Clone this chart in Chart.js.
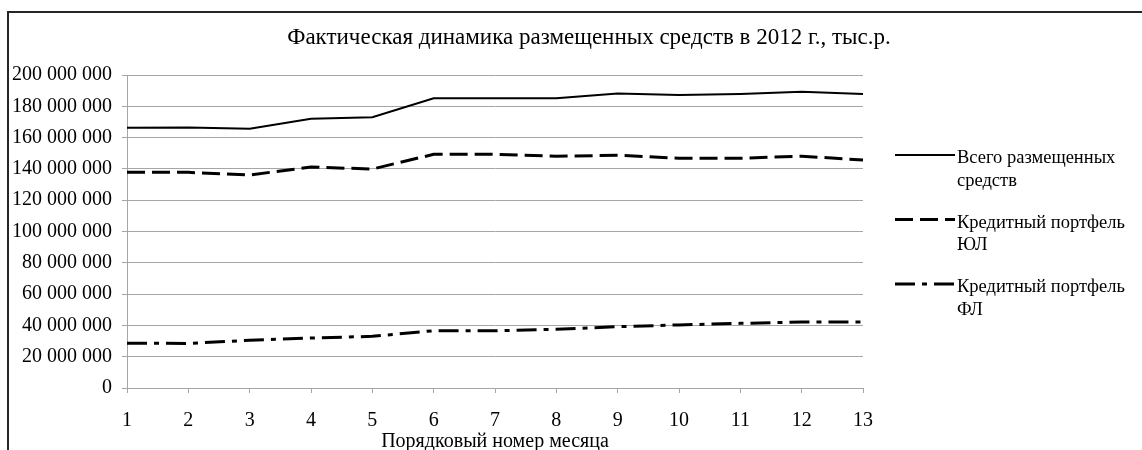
<!DOCTYPE html>
<html>
<head>
<meta charset="utf-8">
<script src="https://cdn.jsdelivr.net/npm/chart.js@4.4.1/dist/chart.umd.min.js"></script>
<style>
  html, body { margin: 0; padding: 0; background: #ffffff; }
  #wrap { width: 1142px; height: 450px; position: relative; }
</style>
</head>
<body>
<div id="wrap"><canvas id="chart" width="1142" height="450"></canvas></div>
<script>
// Months of 2012 (serial numbers)
const months = ['1', '2', '3', '4', '5', '6', '7', '8', '9', '10', '11', '12', '13'];

// Placed funds, thousand roubles
const totalPlaced    = [166300000, 166500000, 165700000, 172100000, 173000000, 185100000, 185100000, 185200000, 188100000, 187200000, 187900000, 189300000, 187900000];
const corporateLoans = [137800000, 137800000, 136100000, 141200000, 139900000, 149300000, 149300000, 148100000, 148700000, 146800000, 146800000, 148100000, 145700000];
const retailLoans    = [28600000, 28500000, 30500000, 31900000, 33000000, 36600000, 36600000, 37500000, 39200000, 40300000, 41300000, 42200000, 42200000];

// Series names
const seriesNames = ['Всего размещенных средств', 'Кредитный портфель ЮЛ', 'Кредитный портфель ФЛ'];

// Value axis range
const yMin = 0;
const yMax = 200000000;
const yStep = 20000000;

const chartTitle = 'Фактическая динамика размещенных средств в 2012 г., тыс.р.';
const xAxisTitle = 'Порядковый номер месяца';

const serif = "'Liberation Serif', 'Times New Roman', serif";
const gridGray = '#a6a6a6';

function formatThousands(v) {
  return String(Math.round(v)).replace(/\B(?=(\d{3})+(?!\d))/g, ' ');
}

// Outer frame (top and left edges) and the heading
const framePlugin = {
  id: 'frame',
  beforeDraw(chart) {
    const ctx = chart.ctx;
    ctx.save();
    ctx.strokeStyle = '#262626';
    ctx.lineWidth = 2;
    ctx.beginPath();
    ctx.moveTo(chart.width, 12);
    ctx.lineTo(8, 12);
    ctx.lineTo(8, chart.height);
    ctx.stroke();

    ctx.fillStyle = '#000';
    ctx.font = '23px ' + serif;
    ctx.textAlign = 'center';
    ctx.textBaseline = 'alphabetic';
    ctx.fillText(chartTitle, 589, 44);
    ctx.restore();
  }
};

// Legend on the right with wrapped labels
const sideLegendPlugin = {
  id: 'sideLegend',
  afterDraw(chart) {
    const ctx = chart.ctx;
    const lineX0 = 895, lineX1 = 955, textX = 957;
    const maxWidth = chart.width - textX - 8;
    const lineGap = 22.5;
    let baseline = 163;
    ctx.save();
    ctx.font = '18.5px ' + serif;
    ctx.fillStyle = '#000';
    ctx.textBaseline = 'alphabetic';
    ctx.textAlign = 'left';
    chart.data.datasets.forEach(ds => {
      // sample line
      ctx.save();
      ctx.strokeStyle = ds.borderColor;
      ctx.lineWidth = ds.borderWidth;
      ctx.setLineDash(ds.borderDash || []);
      ctx.beginPath();
      ctx.moveTo(lineX0, baseline - 8);
      ctx.lineTo(lineX1, baseline - 8);
      ctx.stroke();
      ctx.restore();
      // wrapped text
      const words = ds.label.split(' ');
      const lines = [];
      let cur = '';
      words.forEach(w => {
        const test = cur ? cur + ' ' + w : w;
        if (cur && ctx.measureText(test).width > maxWidth) {
          lines.push(cur);
          cur = w;
        } else {
          cur = test;
        }
      });
      if (cur) lines.push(cur);
      lines.forEach((ln, i) => ctx.fillText(ln, textX, baseline + i * lineGap));
      baseline += lines.length * lineGap + 19.5;
    });
    ctx.restore();
  }
};

new Chart(document.getElementById('chart'), {
  type: 'line',
  data: {
    labels: months,
    datasets: [
      { label: seriesNames[0], data: totalPlaced,    borderColor: '#000', borderWidth: 2, borderDash: [],            pointRadius: 0, tension: 0, fill: false },
      { label: seriesNames[1], data: corporateLoans, borderColor: '#000', borderWidth: 3, borderDash: [18, 7],       pointRadius: 0, tension: 0, fill: false },
      { label: seriesNames[2], data: retailLoans,    borderColor: '#000', borderWidth: 3, borderDash: [20, 7, 5, 7], pointRadius: 0, tension: 0, fill: false }
    ]
  },
  options: {
    responsive: false,
    animation: false,
    devicePixelRatio: 1,
    layout: { padding: { left: 2, right: 279, top: 75, bottom: 0 } },
    plugins: {
      legend: { display: false },
      tooltip: { enabled: false },
      title: { display: false }
    },
    scales: {
      x: {
        type: 'category',
        offset: false,
        afterFit(scale) { scale.height = 62; },
        grid: { drawOnChartArea: false, drawTicks: true, tickLength: 5, color: gridGray },
        border: { display: true, color: gridGray, width: 1 },
        ticks: { color: '#000', font: { family: serif, size: 20, lineHeight: 1.2 }, padding: 16, maxRotation: 0, autoSkip: false },
        title: { display: true, text: xAxisTitle, color: '#000', font: { family: serif, size: 20, lineHeight: 1.0 }, padding: { top: 0, bottom: -2 } }
      },
      y: {
        min: yMin,
        max: yMax,
        grid: { color: gridGray, tickLength: 5, drawTicks: true },
        border: { display: true, color: gridGray, width: 1 },
        ticks: {
          stepSize: yStep,
          color: '#000',
          padding: 10,
          font: { family: serif, size: 20 },
          callback: v => formatThousands(v)
        }
      }
    }
  },
  plugins: [framePlugin, sideLegendPlugin]
});
</script>
</body>
</html>
